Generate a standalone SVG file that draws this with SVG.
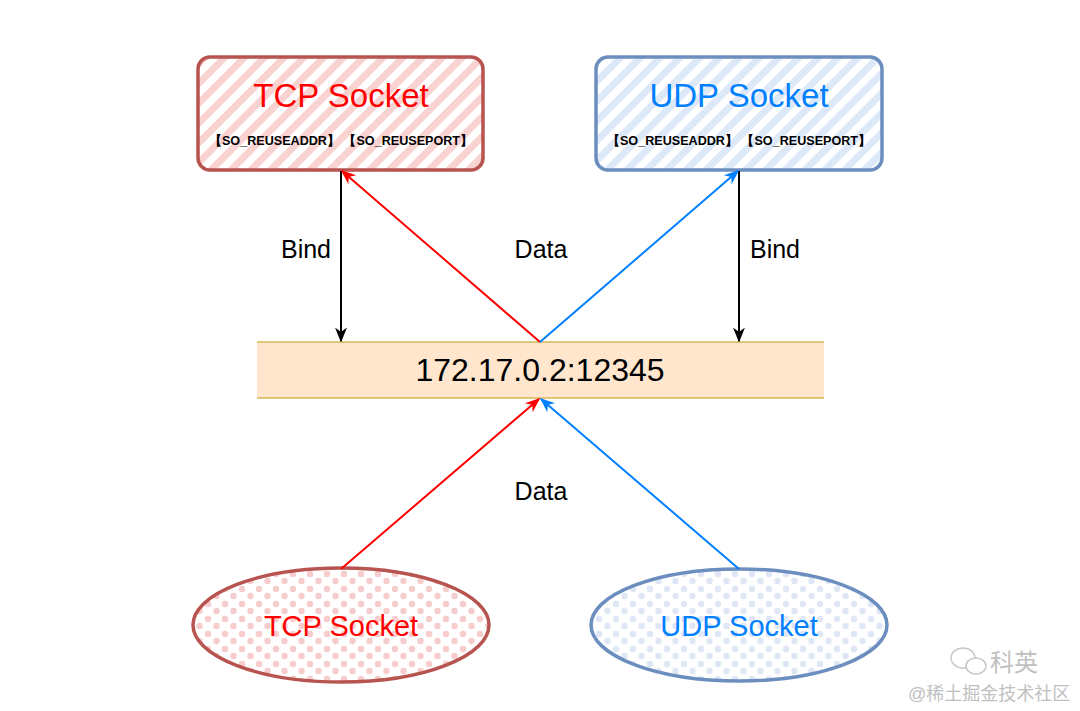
<svg xmlns="http://www.w3.org/2000/svg" width="1080" height="711" viewBox="0 0 1080 711">
<style>
text{font-family:"Liberation Sans",Arial,sans-serif;}
.lbl{font-size:25px;fill:#000;text-anchor:middle;}
.title{font-size:33px;text-anchor:middle;}
.opt{font-size:12.6px;font-weight:bold;fill:#000;text-anchor:middle;}
.conn{fill:none;stroke-width:2;}
.wm{fill:#c0c0c0;font-family:"Liberation Sans","Noto Sans CJK SC",sans-serif;}
</style>
<defs>
<pattern id="hatchRed" width="14" height="14" patternUnits="userSpaceOnUse" patternTransform="rotate(-45)">
<rect width="14" height="14" fill="#fff"/>
<rect width="14" height="7" fill="#f8d3d1"/>
</pattern>
<pattern id="hatchBlue" width="14" height="14" patternUnits="userSpaceOnUse" patternTransform="rotate(-45)">
<rect width="14" height="14" fill="#fff"/>
<rect width="14" height="7" fill="#dde8f9"/>
</pattern>
<pattern id="dotRed" width="17" height="15" patternUnits="userSpaceOnUse">
<rect width="17" height="15" fill="#fff"/>
<circle cx="4" cy="4" r="3.2" fill="#f6cccc"/>
<circle cx="12.5" cy="11" r="3.2" fill="#f6cccc"/>
</pattern>
<pattern id="dotBlue" width="17" height="15" patternUnits="userSpaceOnUse">
<rect width="17" height="15" fill="#fff"/>
<circle cx="4" cy="4" r="3.2" fill="#dfe7f6"/>
<circle cx="12.5" cy="11" r="3.2" fill="#dfe7f6"/>
</pattern>
<marker id="ahBlack" viewBox="0 0 10 10" refX="9" refY="5" markerWidth="15" markerHeight="15" markerUnits="userSpaceOnUse" orient="auto">
<path d="M0,1 L10,5 L0,9 L3,5 Z" fill="#000"/>
</marker>
<marker id="ahRed" viewBox="0 0 10 10" refX="9" refY="5" markerWidth="15" markerHeight="15" markerUnits="userSpaceOnUse" orient="auto">
<path d="M0,1 L10,5 L0,9 L3,5 Z" fill="#ff0000"/>
</marker>
<marker id="ahBlue" viewBox="0 0 10 10" refX="9" refY="5" markerWidth="15" markerHeight="15" markerUnits="userSpaceOnUse" orient="auto">
<path d="M0,1 L10,5 L0,9 L3,5 Z" fill="#007fff"/>
</marker>
</defs>
<rect width="1080" height="711" fill="#fff"/>

<g id="tcp-socket-top">
<rect x="198" y="57" width="285" height="113" rx="12" fill="url(#hatchRed)" stroke="#b85450" stroke-width="3.5"/>
<text class="title" x="341" y="107" fill="#ff0000">TCP Socket</text>
<text class="opt" x="341" y="145">【SO_REUSEADDR】 【SO_REUSEPORT】</text>
</g>

<g id="udp-socket-top">
<rect x="596" y="57" width="286" height="113" rx="12" fill="url(#hatchBlue)" stroke="#6c8ebf" stroke-width="3.5"/>
<text class="title" x="739" y="107" fill="#007fff">UDP Socket</text>
<text class="opt" x="739" y="145">【SO_REUSEADDR】 【SO_REUSEPORT】</text>
</g>

<g id="address">
<rect x="257" y="342" width="567" height="56" fill="#ffe6cc"/>
<line x1="257" y1="342" x2="824" y2="342" stroke="#d6b656" stroke-width="1.5"/>
<line x1="257" y1="398" x2="824" y2="398" stroke="#d6b656" stroke-width="1.5"/>
<text x="540" y="381" font-size="32" text-anchor="middle" fill="#000">172.17.0.2:12345</text>
</g>

<g id="tcp-socket-bottom">
<ellipse cx="341" cy="625" rx="148" ry="57" fill="url(#dotRed)" stroke="#b85450" stroke-width="3.5"/>
<text x="341" y="636" font-size="29" text-anchor="middle" fill="#ff0000">TCP Socket</text>
</g>

<g id="udp-socket-bottom">
<ellipse cx="739" cy="625" rx="148" ry="56" fill="url(#dotBlue)" stroke="#6c8ebf" stroke-width="3.5"/>
<text x="739" y="636" font-size="29" text-anchor="middle" fill="#007fff">UDP Socket</text>
</g>

<g id="connectors">
<line class="conn" x1="341" y1="171" x2="341" y2="341" stroke="#000" marker-end="url(#ahBlack)"/>
<line class="conn" x1="739" y1="171" x2="739" y2="341" stroke="#000" marker-end="url(#ahBlack)"/>
<line class="conn" x1="540" y1="342" x2="342" y2="171" stroke="#ff0000" marker-end="url(#ahRed)"/>
<line class="conn" x1="540" y1="342" x2="738" y2="171" stroke="#007fff" marker-end="url(#ahBlue)"/>
<line class="conn" x1="341" y1="569" x2="539" y2="399" stroke="#ff0000" marker-end="url(#ahRed)"/>
<line class="conn" x1="739" y1="569" x2="541" y2="399" stroke="#007fff" marker-end="url(#ahBlue)"/>
<text class="lbl" x="306" y="258">Bind</text>
<text class="lbl" x="541" y="258">Data</text>
<text class="lbl" x="775" y="258">Bind</text>
<text class="lbl" x="541" y="500">Data</text>
</g>

<g id="watermark">
<ellipse cx="963" cy="658" rx="12" ry="10" fill="none" stroke="#c8c8c8" stroke-width="1.5"/>
<ellipse cx="976" cy="666" rx="10" ry="8" fill="#fff" stroke="#c8c8c8" stroke-width="1.5"/>
<text class="wm" x="990" y="671" font-size="24">科英</text>
<text class="wm" x="908" y="700" font-size="18">@稀土掘金技术社区</text>
</g>
</svg>
